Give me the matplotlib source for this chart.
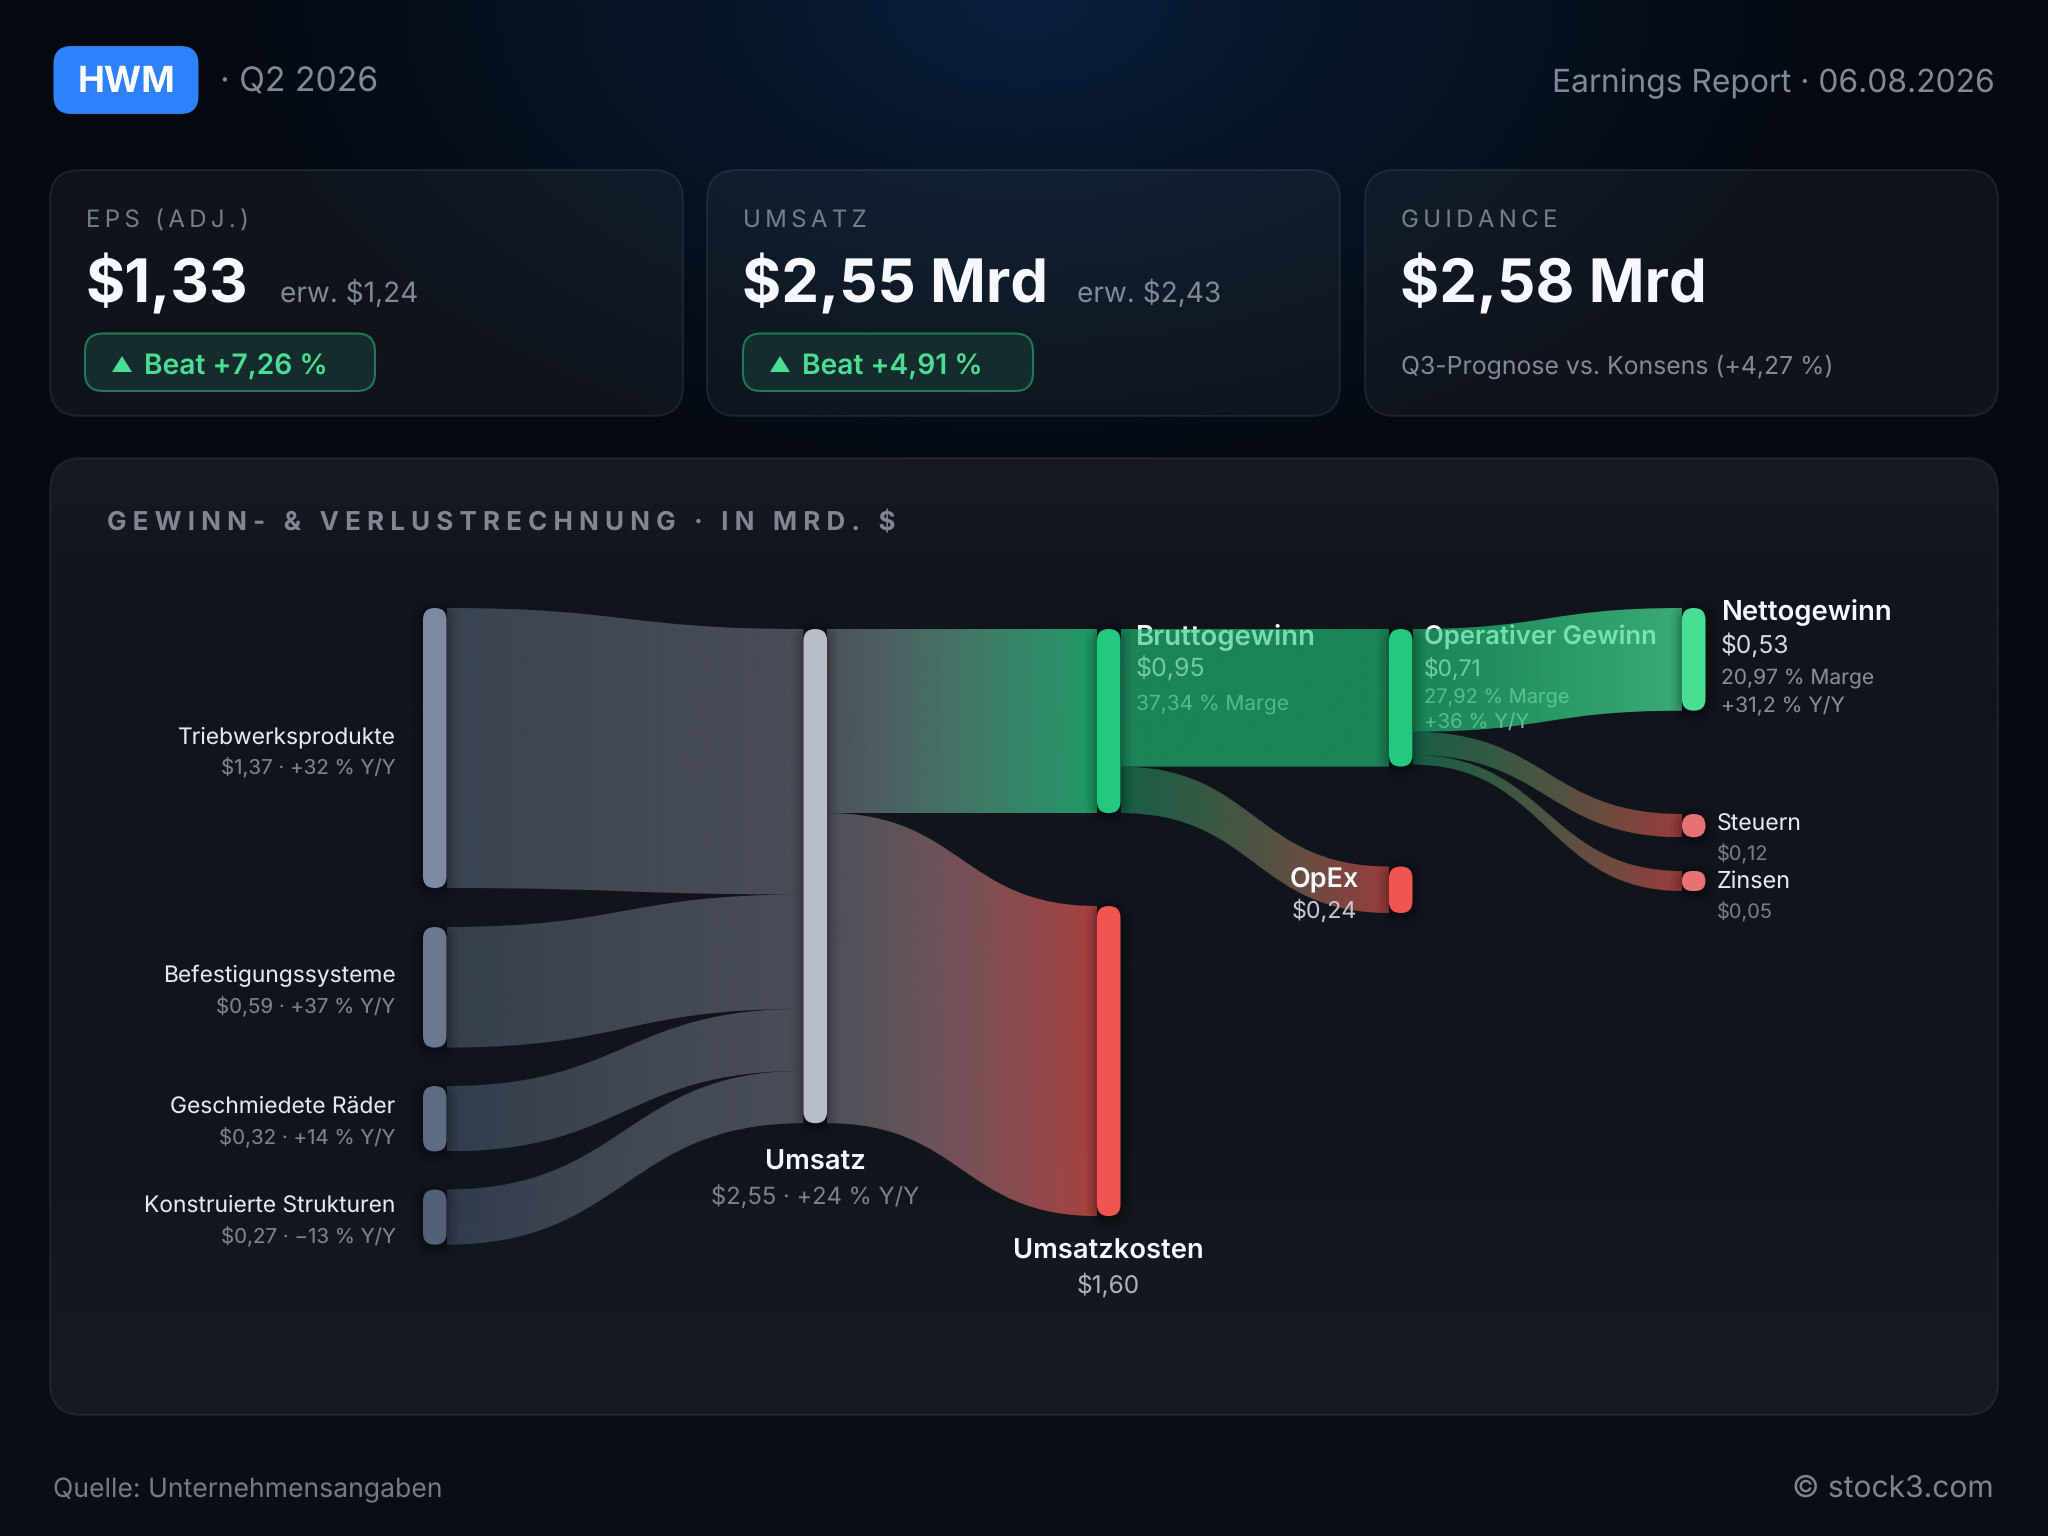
"""
HWM Q2 2026 earnings sankey, drawn on a 2048x1536 pixel canvas.
"""
import numpy as np
import matplotlib
matplotlib.use("Agg")
import matplotlib.pyplot as plt
from matplotlib.colors import to_rgb
from matplotlib.patches import FancyBboxPatch, PathPatch, Polygon
from matplotlib.path import Path

plt.rcParams["font.family"] = ["Inter", "DejaVu Sans"]
plt.rcParams["text.hinting"] = "no_hinting"

# ─── data ─────────────────────────────────────────────────────────────────────
SEGMENTS = ["Triebwerksprodukte", "Befestigungssysteme", "Geschmiedete Räder", "Konstruierte Strukturen"]
SEGMENT_VALUES = [1.37, 0.59, 0.32, 0.27]
SEGMENT_NOTES = ["$1,37 · +32 % Y/Y", "$0,59 · +37 % Y/Y", "$0,32 · +14 % Y/Y", "$0,27 · −13 % Y/Y"]

REVENUE = 2.55
GROSS_PROFIT = 0.95
COST_OF_REVENUE = 1.60
OP_PROFIT = 0.71
OPEX = 0.24
NET_PROFIT = 0.53
TAXES = 0.12
INTEREST = 0.05

CARD_LABELS = ["EPS (ADJ.)", "UMSATZ", "GUIDANCE"]
CARD_VALUES = ["$1,33", "$2,55 Mrd", "$2,58 Mrd"]
CARD_EXPECTED = ["erw. $1,24", "erw. $2,43", None]
CARD_BEATS = ["Beat +7,26 %", "Beat +4,91 %", None]

# ─── layout / colours ─────────────────────────────────────────────────────────
W, H = 2048, 1536
SEG_SCALE = 204.4     # px per Mrd on the segment nodes
FLOW_SCALE = 193.8    # px per Mrd everywhere else
NODE_W = 23.5
COL_X = [423, 803.5, 1097, 1389, 1682]
SEG_TOPS = [608, 927, 1086, 1189.5]
TOP_Y = 629
COST_TOP = 906
OPEX_TOP = 866.5
NET_TOP = 608
TAX_TOP = 814
INTEREST_TOP = 871
MIN_NODE_H = 20

SEG_COLORS = ["#7c8aa3", "#6a7990", "#5d6c85", "#526079"]
SEG_ALPHAS = [0.40, 0.42, 0.45, 0.50]
C_REV = "#b8bdcb"
C_GREEN = "#22c97e"
C_RED = "#f25550"
C_NET = "#4ade94"
C_SMALL = "#e57373"
TXT_WHITE = "#f6f8ff"
TXT_LIGHT = "#e6e8ee"
TXT_GREY = "#7a818d"
TXT_MID = "#828996"


def px(size):
    return size * 0.72


fig = plt.figure(figsize=(W / 100, H / 100), dpi=100)
ax = fig.add_axes([0, 0, 1, 1])
ax.set_axis_off()


# ─── helpers ──────────────────────────────────────────────────────────────────
def txt(x, y, s, size, color, weight="normal", ha="left", z=8):
    return ax.text(x, y, s, fontsize=px(size), color=color, fontweight=weight,
                   ha=ha, va="baseline", zorder=z)


def tracked(s, n):
    return ("\u200a" * n).join(s)


def rbox(x, y, w, h, r, **kw):
    return FancyBboxPatch((x, y), w, h, boxstyle=f"round,pad=0,rounding_size={r}", **kw)


def link(x0, y0, h0, x1, y1, h1, c0, a0, c1, a1):
    mx = (x0 + x1) / 2
    verts = [(x0, y0), (mx, y0), (mx, y1), (x1, y1),
             (x1, y1 + h1), (mx, y1 + h1), (mx, y0 + h0), (x0, y0 + h0), (x0, y0)]
    codes = [Path.MOVETO, Path.CURVE4, Path.CURVE4, Path.CURVE4, Path.LINETO,
             Path.CURVE4, Path.CURVE4, Path.CURVE4, Path.CLOSEPOLY]
    t = np.linspace(0, 1, 256)[:, None]
    rgba = np.hstack([np.array(to_rgb(c0)) * (1 - t) + np.array(to_rgb(c1)) * t,
                      a0 * (1 - t) + a1 * t])[None, :, :]
    ytop, ybot = min(y0, y1), max(y0 + h0, y1 + h1)
    im = ax.imshow(rgba, extent=(x0, x1, ybot, ytop), aspect="auto", zorder=3, interpolation="bilinear")
    clip = PathPatch(Path(verts, codes), transform=ax.transData, fc="none", ec="none")
    im.set_clip_path(clip)


def node(x, y, h, color):
    r = min(NODE_W, h) / 2
    for grow, a in [(12, 0.035), (9, 0.05), (6, 0.07), (3, 0.10)]:
        ax.add_patch(rbox(x - grow, y - grow + 2, NODE_W + 2 * grow, h + 2 * grow, r + grow,
                          fc="black", ec="none", alpha=a, zorder=4))
    ax.add_patch(rbox(x, y, NODE_W, h, r, fc=color, ec="none", zorder=5))


def col_right(i):
    return COL_X[i] + NODE_W


# ─── background ───────────────────────────────────────────────────────────────
yy, xx = np.mgrid[0:H:4, 0:W:4]
vert = np.clip((yy - 440) / (H - 440), 0, 1)[..., None]
base = np.array([5, 10, 17]) * (1 - vert) + np.array([10, 15, 22]) * vert
r = np.sqrt(((xx - 1024) / 840) ** 2 + (yy / 500) ** 2)
glow = (np.clip(1 - r, 0, 1) ** 1.2)[..., None]
bg = (base * (1 - glow) + np.array([10, 30, 60]) * glow) / 255
ax.imshow(bg, extent=(0, W, H, 0), aspect="auto", zorder=0, interpolation="bilinear")

# ─── header ───────────────────────────────────────────────────────────────────
ax.add_patch(rbox(53.5, 46, 145, 68, 18, fc="#2f80fb", ec="none", zorder=2))
txt(126, 92, "HWM", 36, "white", "bold", "center")
txt(220, 92, "· Q2 2026", 33.7, TXT_MID)
txt(1995, 92, "Earnings Report · 06.08.2026", 31.8, TXT_MID, ha="right")

# ─── KPI cards ────────────────────────────────────────────────────────────────
CARD_X = [50, 707, 1365]
BADGE_X = [85, 743]
EXPECTED_X = [280, 1077]
for i, cx in enumerate(CARD_X):
    ax.add_patch(rbox(cx, 170, 633, 246, 30, fc=(1, 1, 1, 0.042), ec=(1, 1, 1, 0.08), lw=1.5, zorder=1))
    txt(cx + 36, 227, tracked(CARD_LABELS[i], 2), 24, "#767d8a")
    txt(cx + 35.5, 302.5, CARD_VALUES[i], 60, TXT_WHITE, "bold")
    if CARD_EXPECTED[i]:
        bx = BADGE_X[i]
        txt(EXPECTED_X[i], 302, CARD_EXPECTED[i], 28, TXT_MID)
        ax.add_patch(rbox(bx, 333.5, 290, 57.5, 18, fc="#162c2c", ec="#1d7a55", lw=1.5, zorder=2))
        ax.add_patch(Polygon([(bx + 27, 372), (bx + 37, 356), (bx + 47, 372)], closed=True,
                             fc=C_NET, ec="none", zorder=3))
        txt(bx + 59.5, 375, CARD_BEATS[i], 28.2, C_NET, "semibold")
txt(1401, 374, "Q3-Prognose vs. Konsens (+4,27 %)", 24.8, TXT_MID)

# ─── sankey panel ─────────────────────────────────────────────────────────────
panel = np.interp(np.arange(458, 1416), [458, 600, 1100, 1415], [0, 1, 1, 0])[:, None]
panel_rgb = (np.array([22, 26, 33]) * (1 - panel) + np.array([16, 21, 28]) * panel)[:, None, :] / 255
im = ax.imshow(panel_rgb, extent=(50, 1998, 1415, 458), aspect="auto", zorder=1)
clip = rbox(50, 458, 1948, 957, 32, transform=ax.transData, fc="none", ec="none")
ax.add_patch(clip)
im.set_clip_path(clip)
ax.add_patch(rbox(50, 458, 1948, 957, 32, fc="none", ec=(1, 1, 1, 0.07), lw=1.5, zorder=1))
txt(107, 530, tracked("GEWINN- & VERLUSTRECHNUNG · IN MRD. $", 3), 26, "#808793", "bold")

# labels that sit underneath the translucent links
txt(1136, 644, "Bruttogewinn", 27.6, "white", "semibold", z=2)
txt(1136, 677, "$0,95", 25, "#d8dade", z=2)
txt(1136, 709, "37,34 % Marge", 20.9, "#9a9ea6", z=2)
txt(1424, 644, "Operativer Gewinn", 25.7, "white", "semibold", z=2)
txt(1424, 676, "$0,71", 22.8, "#d8dade", z=2)
txt(1424, 704, "27,92 % Marge", 20, "#9a9ea6", z=2)
txt(1424, 728, "+36 % Y/Y", 20.4, "#9a9ea6", z=2)

# links and nodes, segments into revenue
y_in = TOP_Y
for i, v in enumerate(SEGMENT_VALUES):
    link(col_right(0), SEG_TOPS[i], v * SEG_SCALE, COL_X[1], y_in, v * FLOW_SCALE,
         SEG_COLORS[i], SEG_ALPHAS[i], C_REV, 0.34)
    y_in += v * FLOW_SCALE

gross_h = GROSS_PROFIT * FLOW_SCALE
cost_h = COST_OF_REVENUE * FLOW_SCALE
op_h = OP_PROFIT * FLOW_SCALE
opex_h = OPEX * FLOW_SCALE
net_h = NET_PROFIT * FLOW_SCALE
tax_h = TAXES * FLOW_SCALE
int_h = INTEREST * FLOW_SCALE

link(col_right(1), TOP_Y, gross_h, COL_X[2], TOP_Y, gross_h, C_REV, 0.36, C_GREEN, 0.75)
link(col_right(1), TOP_Y + gross_h, cost_h, COL_X[2], COST_TOP, cost_h, C_REV, 0.36, C_RED, 0.68)
link(col_right(2), TOP_Y, op_h, COL_X[3], TOP_Y, op_h, C_GREEN, 0.62, C_GREEN, 0.62)
link(col_right(2), TOP_Y + op_h, opex_h, COL_X[3], OPEX_TOP, opex_h, C_GREEN, 0.41, C_RED, 0.62)
link(col_right(3), TOP_Y, net_h, COL_X[4], NET_TOP, net_h, C_GREEN, 0.62, C_NET, 0.75)
link(col_right(3), TOP_Y + net_h, tax_h, COL_X[4], TAX_TOP, tax_h, C_GREEN, 0.41, C_RED, 0.62)
link(col_right(3), TOP_Y + net_h + tax_h, int_h, COL_X[4], INTEREST_TOP, max(int_h, MIN_NODE_H),
     C_GREEN, 0.41, C_RED, 0.62)

for i, v in enumerate(SEGMENT_VALUES):
    node(COL_X[0], SEG_TOPS[i], v * SEG_SCALE, SEG_COLORS[i])
node(COL_X[1], TOP_Y, REVENUE * FLOW_SCALE, C_REV)
node(COL_X[2], TOP_Y, gross_h, C_GREEN)
node(COL_X[2], COST_TOP, cost_h, C_RED)
node(COL_X[3], TOP_Y, op_h, C_GREEN)
node(COL_X[3], OPEX_TOP, opex_h, C_RED)
node(COL_X[4], NET_TOP, net_h, C_NET)
node(COL_X[4], TAX_TOP, tax_h, C_SMALL)
node(COL_X[4], INTEREST_TOP, max(int_h, MIN_NODE_H), C_SMALL)

# labels on top
SEG_BASE = [743, 982, 1113, 1212]
for i, name in enumerate(SEGMENTS):
    txt(395.5, SEG_BASE[i], name, 22.8, TXT_LIGHT, ha="right")
    txt(395.5, SEG_BASE[i] + 30, SEGMENT_NOTES[i], 20.5, TXT_GREY, ha="right")

txt(815, 1170, "Umsatz", 27.4, TXT_WHITE, "semibold", "center")
txt(815, 1203.5, "$2,55 · +24 % Y/Y", 23.7, TXT_GREY, ha="center")
txt(1108.5, 1259, "Umsatzkosten", 27.4, TXT_WHITE, "semibold", "center")
txt(1108.5, 1292.5, "$1,60", 24.4, "#aeb1b8", ha="center")
txt(1358.5, 887, "OpEx", 27, TXT_WHITE, "semibold", "right")
txt(1357.5, 918, "$0,24", 23.2, "#c4c7cd", ha="right")
txt(1721.5, 620, "Nettogewinn", 27.5, TXT_WHITE, "semibold")
txt(1721, 653, "$0,53", 24.6, "#d6d9de")
txt(1721, 684, "20,97 % Marge", 21, "#868a92")
txt(1721, 711, "+31,2 % Y/Y", 21.2, "#868a92")
txt(1717, 831, "Steuern", 23, TXT_LIGHT)
txt(1717, 861, "$0,12", 20, "#767b82")
txt(1717, 888, "Zinsen", 23.4, TXT_LIGHT)
txt(1717, 918, "$0,05", 20, "#767b82")

# ─── footer ───────────────────────────────────────────────────────────────────
txt(53, 1497, "Quelle: Unternehmensangaben", 26.6, "#747b86")
txt(1994, 1497, "© stock3.com", 30, "#7e848f", ha="right")

ax.set_xlim(0, W)
ax.set_ylim(H, 0)
fig.savefig("out.png", dpi=100)
